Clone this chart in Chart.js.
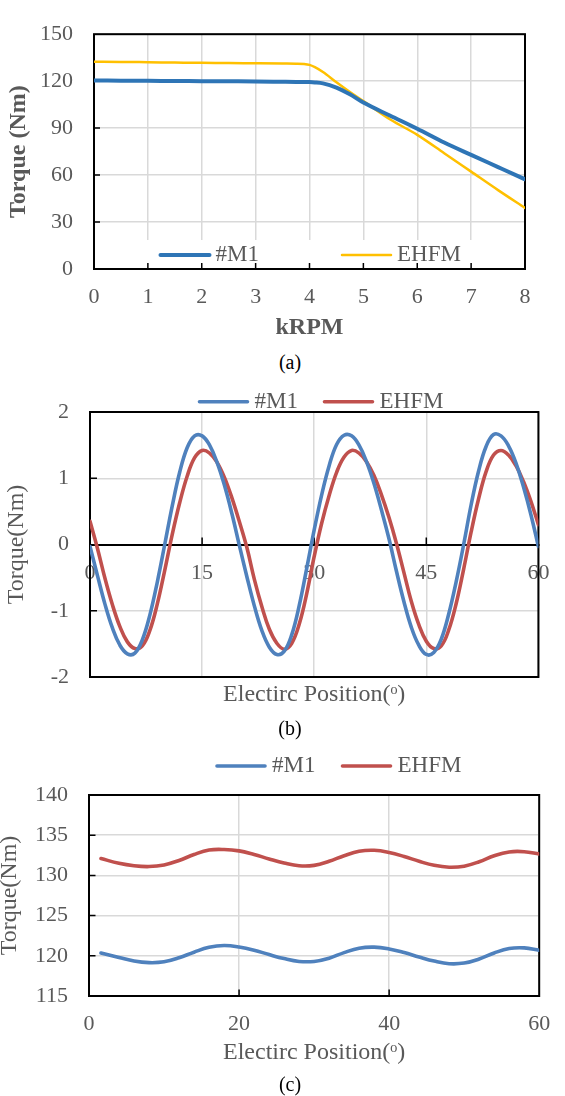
<!DOCTYPE html>
<html>
<head>
<meta charset="utf-8">
<title>Torque comparison</title>
<script src="https://cdn.jsdelivr.net/npm/chart.js@4.4.1/dist/chart.umd.min.js"></script>
<style>
  html, body { margin: 0; padding: 0; background: #fff; }
  #page { position: relative; width: 565px; height: 1096px; overflow: hidden; background: #fff; }
  #page canvas { position: absolute; left: 0; }
  .cap {
    position: absolute; width: 40px; height: 24px; line-height: 24px; text-align: center;
    font: 20px 'Liberation Serif', 'Times New Roman', serif; color: #000;
  }
</style>
</head>
<body>
<div id="page">
  <canvas id="chartA" width="565" height="345" style="top:0;width:565px;height:345px"></canvas>
  <div class="cap" style="left:270px;top:351px">(a)</div>
  <canvas id="chartB" width="565" height="360" style="top:370px;width:565px;height:360px"></canvas>
  <div class="cap" style="left:270px;top:717px">(b)</div>
  <canvas id="chartC" width="565" height="356" style="top:740px;width:565px;height:356px"></canvas>
  <div class="cap" style="left:270px;top:1073px">(c)</div>
</div>
<script>
// ---- (a) torque vs. speed envelope ----
const speedKrpm    = [0, 0.5, 1, 1.5, 2, 2.5, 3, 3.5, 3.75, 3.9, 4, 4.1, 4.25, 4.5, 4.75, 5, 5.5, 6, 6.5, 7, 7.5, 8];
const envelopeM1   = [120.4, 120.3, 120.2, 120.1, 120.0, 119.9, 119.8, 119.6, 119.5, 119.45, 119.4, 119.2, 118.6, 115.9, 111.6, 106.3, 97.9, 89.6, 80.8, 72.9, 65.1, 57.3];
const envelopeEHFM = [132.4, 132.3, 132.1, 131.9, 131.7, 131.6, 131.4, 131.25, 131.2, 131.0, 130.4, 128.9, 125.8, 119.3, 113.1, 107.3, 95.5, 85.7, 74.0, 62.2, 50.4, 39.0];
const speedTicks    = [0, 1, 2, 3, 4, 5, 6, 7, 8];
const envelopeTicks = [0, 30, 60, 90, 120, 150];

// ---- (b) cogging torque over electric position ----
const positionB = [0, 1, 2, 3, 4, 5, 6, 7, 8, 9, 10, 11, 12, 13, 14, 15, 16, 17, 18, 19, 20,
  21, 22, 23, 24, 25, 26, 27, 28, 29, 30, 31, 32, 33, 34, 35, 36, 37, 38, 39, 40,
  41, 42, 43, 44, 45, 46, 47, 48, 49, 50, 51, 52, 53, 54, 55, 56, 57, 58, 59, 60];
const coggingM1 = [-0.03, -0.47, -0.90, -1.26, -1.52, -1.65, -1.64, -1.44, -1.07, -0.57,
  0.00, 0.58, 1.09, 1.46, 1.64, 1.64, 1.50, 1.24, 0.89, 0.46,
  -0.02, -0.49, -0.93, -1.30, -1.55, -1.66, -1.61, -1.36, -0.92, -0.36,
  0.22, 0.75, 1.19, 1.51, 1.65, 1.64, 1.50, 1.25, 0.92, 0.52,
  0.09, -0.40, -0.86, -1.25, -1.52, -1.66, -1.63, -1.43, -1.05, -0.56,
  0.00, 0.60, 1.11, 1.48, 1.66, 1.64, 1.49, 1.23, 0.87, 0.45, -0.03];
const coggingEHFM = [0.35, -0.06, -0.51, -0.91, -1.24, -1.47, -1.57, -1.53, -1.30, -0.90,
  -0.39, 0.15, 0.63, 1.03, 1.31, 1.42, 1.38, 1.24, 1.01, 0.70,
  0.34, -0.05, -0.53, -0.94, -1.28, -1.49, -1.58, -1.49, -1.20, -0.74,
  -0.18, 0.32, 0.74, 1.09, 1.32, 1.42, 1.38, 1.25, 1.04, 0.75,
  0.41, 0.02, -0.42, -0.86, -1.21, -1.46, -1.57, -1.53, -1.29, -0.89,
  -0.37, 0.19, 0.69, 1.10, 1.35, 1.42, 1.35, 1.19, 0.95, 0.65, 0.30];
const positionTicksB = [0, 15, 30, 45, 60];
const coggingTicks   = [-2, -1, 0, 1, 2];

// ---- (c) output torque over electric position ----
const positionC = [1.6, 4, 6, 8, 10, 12, 14, 16, 18, 20, 22, 24, 26, 28, 30, 32, 34, 36, 38, 40,
  42, 44, 46, 48, 50, 52, 54, 56, 58, 60];
const outputM1 = [120.35, 119.8, 119.35, 119.15, 119.25, 119.75, 120.45, 121.05, 121.28, 121.1,
  120.7, 120.15, 119.65, 119.3, 119.3, 119.7, 120.4, 120.95, 121.08, 120.85,
  120.4, 119.85, 119.35, 119.02, 119.1, 119.6, 120.35, 120.9, 120.98, 120.7];
const outputEHFM = [132.1, 131.5, 131.2, 131.1, 131.3, 131.85, 132.6, 133.15, 133.22, 133.05,
  132.6, 132.05, 131.55, 131.2, 131.25, 131.75, 132.45, 133.0, 133.12, 132.85,
  132.35, 131.75, 131.25, 131.02, 131.15, 131.7, 132.45, 132.92, 132.95, 132.65];
const positionTicksC = [0, 20, 40, 60];
const outputTicks    = [115, 120, 125, 130, 135, 140];

const seriesNames = ['#M1', 'EHFM'];

// ---- shared styling ----
const FONT = "'Liberation Serif', 'Times New Roman', serif";
const TEXT = '#595959';
const GRID = '#d9d9d9';
Chart.defaults.font.family = FONT;
Chart.defaults.color = TEXT;

const toPoints = (xs, ys) => xs.map((x, i) => ({ x: x, y: ys[i] }));
const fixedTicks = list => scale => { scale.ticks = list.map(v => ({ value: v })); };

// legend made of short line samples followed by the series name
const lineLegend = {
  id: 'lineLegend',
  beforeDatasetsDraw(chart, args, opts) {
    const ctx = chart.ctx;
    ctx.save();
    if (opts.background) {
      const b = opts.background;
      ctx.fillStyle = '#fff';
      ctx.fillRect(b[0], b[1], b[2] - b[0], b[3] - b[1]);
    }
    ctx.font = opts.fontSize + 'px ' + FONT;
    ctx.textBaseline = 'middle';
    ctx.textAlign = 'left';
    chart.data.datasets.forEach((ds, i) => {
      const x = opts.x[i];
      ctx.strokeStyle = ds.borderColor;
      ctx.lineWidth = ds.borderWidth;
      ctx.lineCap = 'round';
      ctx.beginPath();
      ctx.moveTo(x, opts.y);
      ctx.lineTo(x + opts.lineLength, opts.y);
      ctx.stroke();
      ctx.fillStyle = TEXT;
      ctx.fillText(ds.label, x + opts.lineLength + opts.gap, opts.y);
    });
    ctx.restore();
  }
};

// black plot frame with short inward tick marks
const axisFrame = {
  id: 'axisFrame',
  beforeDatasetsDraw(chart, args, opts) {
    const { ctx, chartArea: a } = chart;
    const xs = chart.scales.x, ys = chart.scales.y;
    ctx.save();
    ctx.strokeStyle = '#000';
    ctx.lineWidth = 2;
    ctx.strokeRect(a.left, a.top, a.right - a.left, a.bottom - a.top);
    const baseY = opts.xTickAt === undefined ? a.bottom : ys.getPixelForValue(opts.xTickAt);
    ctx.lineWidth = 1.5;
    ctx.beginPath();
    xs.ticks.forEach(t => {
      const px = xs.getPixelForValue(t.value);
      if (px > a.left + 2 && px < a.right - 2) {
        ctx.moveTo(px, baseY);
        ctx.lineTo(px, baseY - opts.tickLength);
      }
    });
    ys.ticks.forEach(t => {
      const py = ys.getPixelForValue(t.value);
      if (py > a.top + 2 && py < a.bottom - 2 && t.value !== opts.xTickAt) {
        ctx.moveTo(a.left, py);
        ctx.lineTo(a.left + opts.tickLength, py);
      }
    });
    ctx.stroke();
    ctx.restore();
  }
};

function baseOptions(padding, smooth) {
  return {
    responsive: false,
    animation: false,
    devicePixelRatio: 1,
    events: [],
    layout: { padding: padding },
    elements: {
      point: { radius: 0 },
      line: smooth === 'monotone' ? { cubicInterpolationMode: 'monotone' } : { tension: 0.4 }
    },
    plugins: { legend: { display: false }, tooltip: { enabled: false } }
  };
}

function dataset(label, xs, ys, color, width) {
  return {
    label: label,
    data: toPoints(xs, ys),
    borderColor: color,
    backgroundColor: color,
    borderWidth: width,
    borderCapStyle: 'round',
    borderJoinStyle: 'round',
    fill: false
  };
}

// ---- chart (a) ----
const optsA = baseOptions({ left: 0, top: 14, right: 40, bottom: 0 }, 'monotone');
optsA.plugins.lineLegend = { x: [160.5, 342], y: 255, lineLength: 49, gap: 6, fontSize: 23, background: [143, 240, 478, 268] };
optsA.plugins.axisFrame = { tickLength: 6 };
optsA.scales = {
  x: {
    type: 'linear', min: 0, max: 8,
    afterBuildTicks: fixedTicks(speedTicks),
    afterFit: s => { s.height = 76; },
    grid: { color: GRID, lineWidth: 1.5, drawTicks: false },
    border: { display: false },
    ticks: { padding: 15, font: { size: 22 }, color: TEXT },
    title: { display: true, text: 'kRPM', color: TEXT, font: { size: 24, weight: 'bold', lineHeight: 1 }, padding: { top: 0, bottom: 5.5 } }
  },
  y: {
    type: 'linear', min: 0, max: 150,
    afterBuildTicks: fixedTicks(envelopeTicks),
    afterFit: s => { s.width = 94; },
    grid: { color: GRID, lineWidth: 1.5, drawTicks: false },
    border: { display: false },
    ticks: { padding: 21, font: { size: 22 }, color: TEXT },
    title: { display: true, text: 'Torque (Nm)', color: TEXT, font: { size: 24, weight: 'bold', lineHeight: 1 }, padding: { top: 6.8, bottom: 0 } }
  }
};
new Chart(document.getElementById('chartA'), {
  type: 'line',
  data: { datasets: [
    dataset(seriesNames[0], speedKrpm, envelopeM1, '#2E75B6', 4),
    dataset(seriesNames[1], speedKrpm, envelopeEHFM, '#FFC000', 2.5)
  ] },
  options: optsA,
  plugins: [lineLegend, axisFrame]
});

// ---- chart (b) ----
const optsB = baseOptions({ left: 0, top: 42, right: 13, bottom: 0 }, 'spline');
optsB.plugins.lineLegend = { x: [199.5, 324.5], y: 31.7, lineLength: 48, gap: 7, fontSize: 23 };
optsB.plugins.axisFrame = { tickLength: 7, xTickAt: 0 };
optsB.scales = {
  x: {
    type: 'linear', min: 0, max: 60, position: { y: 0 },
    afterBuildTicks: fixedTicks(positionTicksB),
    grid: { color: GRID, lineWidth: 1.5, drawTicks: false },
    border: { display: true, color: '#000', width: 2 },
    ticks: { padding: 15.6, font: { size: 22 }, color: TEXT }
  },
  x2: {
    type: 'linear', axis: 'x', position: 'bottom', min: 0, max: 60,
    afterFit: s => { s.height = 53; },
    grid: { display: false, drawTicks: false },
    border: { display: false },
    ticks: { display: false },
    title: { display: true, text: 'Electirc Position(ᵒ)', color: TEXT, font: { size: 24, lineHeight: 1 }, padding: { top: 0, bottom: 23 } }
  },
  y: {
    type: 'linear', min: -2, max: 2,
    afterBuildTicks: fixedTicks(coggingTicks),
    afterFit: s => { s.width = 90; },
    grid: { color: GRID, lineWidth: 1.5, drawTicks: false },
    border: { display: false },
    ticks: { padding: 21, font: { size: 22 }, color: TEXT },
    title: { display: true, text: 'Torque(Nm)', color: TEXT, font: { size: 24, lineHeight: 1 }, padding: { top: 5.2, bottom: 0 } }
  }
};
new Chart(document.getElementById('chartB'), {
  type: 'line',
  data: { datasets: [
    dataset(seriesNames[0], positionB, coggingM1, '#4F81BD', 3.6),
    dataset(seriesNames[1], positionB, coggingEHFM, '#C0504D', 3.6)
  ] },
  options: optsB,
  plugins: [lineLegend, axisFrame]
});

// ---- chart (c) ----
const optsC = baseOptions({ left: 0, top: 55, right: 11, bottom: 0 }, 'spline');
optsC.plugins.lineLegend = { x: [217, 342.5], y: 26, lineLength: 48, gap: 7, fontSize: 23 };
optsC.plugins.axisFrame = { tickLength: 6.5 };
optsC.scales = {
  x: {
    type: 'linear', min: 0, max: 60,
    afterBuildTicks: fixedTicks(positionTicksC),
    afterFit: s => { s.height = 100; },
    grid: { color: GRID, lineWidth: 1.5, drawTicks: false },
    border: { display: false },
    ticks: { padding: 14.8, font: { size: 22 }, color: TEXT },
    title: { display: true, text: 'Electirc Position(ᵒ)', color: TEXT, font: { size: 24, lineHeight: 1 }, padding: { top: 0, bottom: 31 } }
  },
  y: {
    type: 'linear', min: 115, max: 140,
    afterBuildTicks: fixedTicks(outputTicks),
    afterFit: s => { s.width = 89; },
    grid: { color: GRID, lineWidth: 1.5, drawTicks: false },
    border: { display: false },
    ticks: { padding: 21, font: { size: 22 }, color: TEXT },
    title: { display: true, text: 'Torque(Nm)', color: TEXT, font: { size: 24, lineHeight: 1 }, padding: { top: -2.2, bottom: 0 } }
  }
};
new Chart(document.getElementById('chartC'), {
  type: 'line',
  data: { datasets: [
    dataset(seriesNames[0], positionC, outputM1, '#4F81BD', 3.6),
    dataset(seriesNames[1], positionC, outputEHFM, '#C0504D', 3.6)
  ] },
  options: optsC,
  plugins: [lineLegend, axisFrame]
});
</script>
</body>
</html>
